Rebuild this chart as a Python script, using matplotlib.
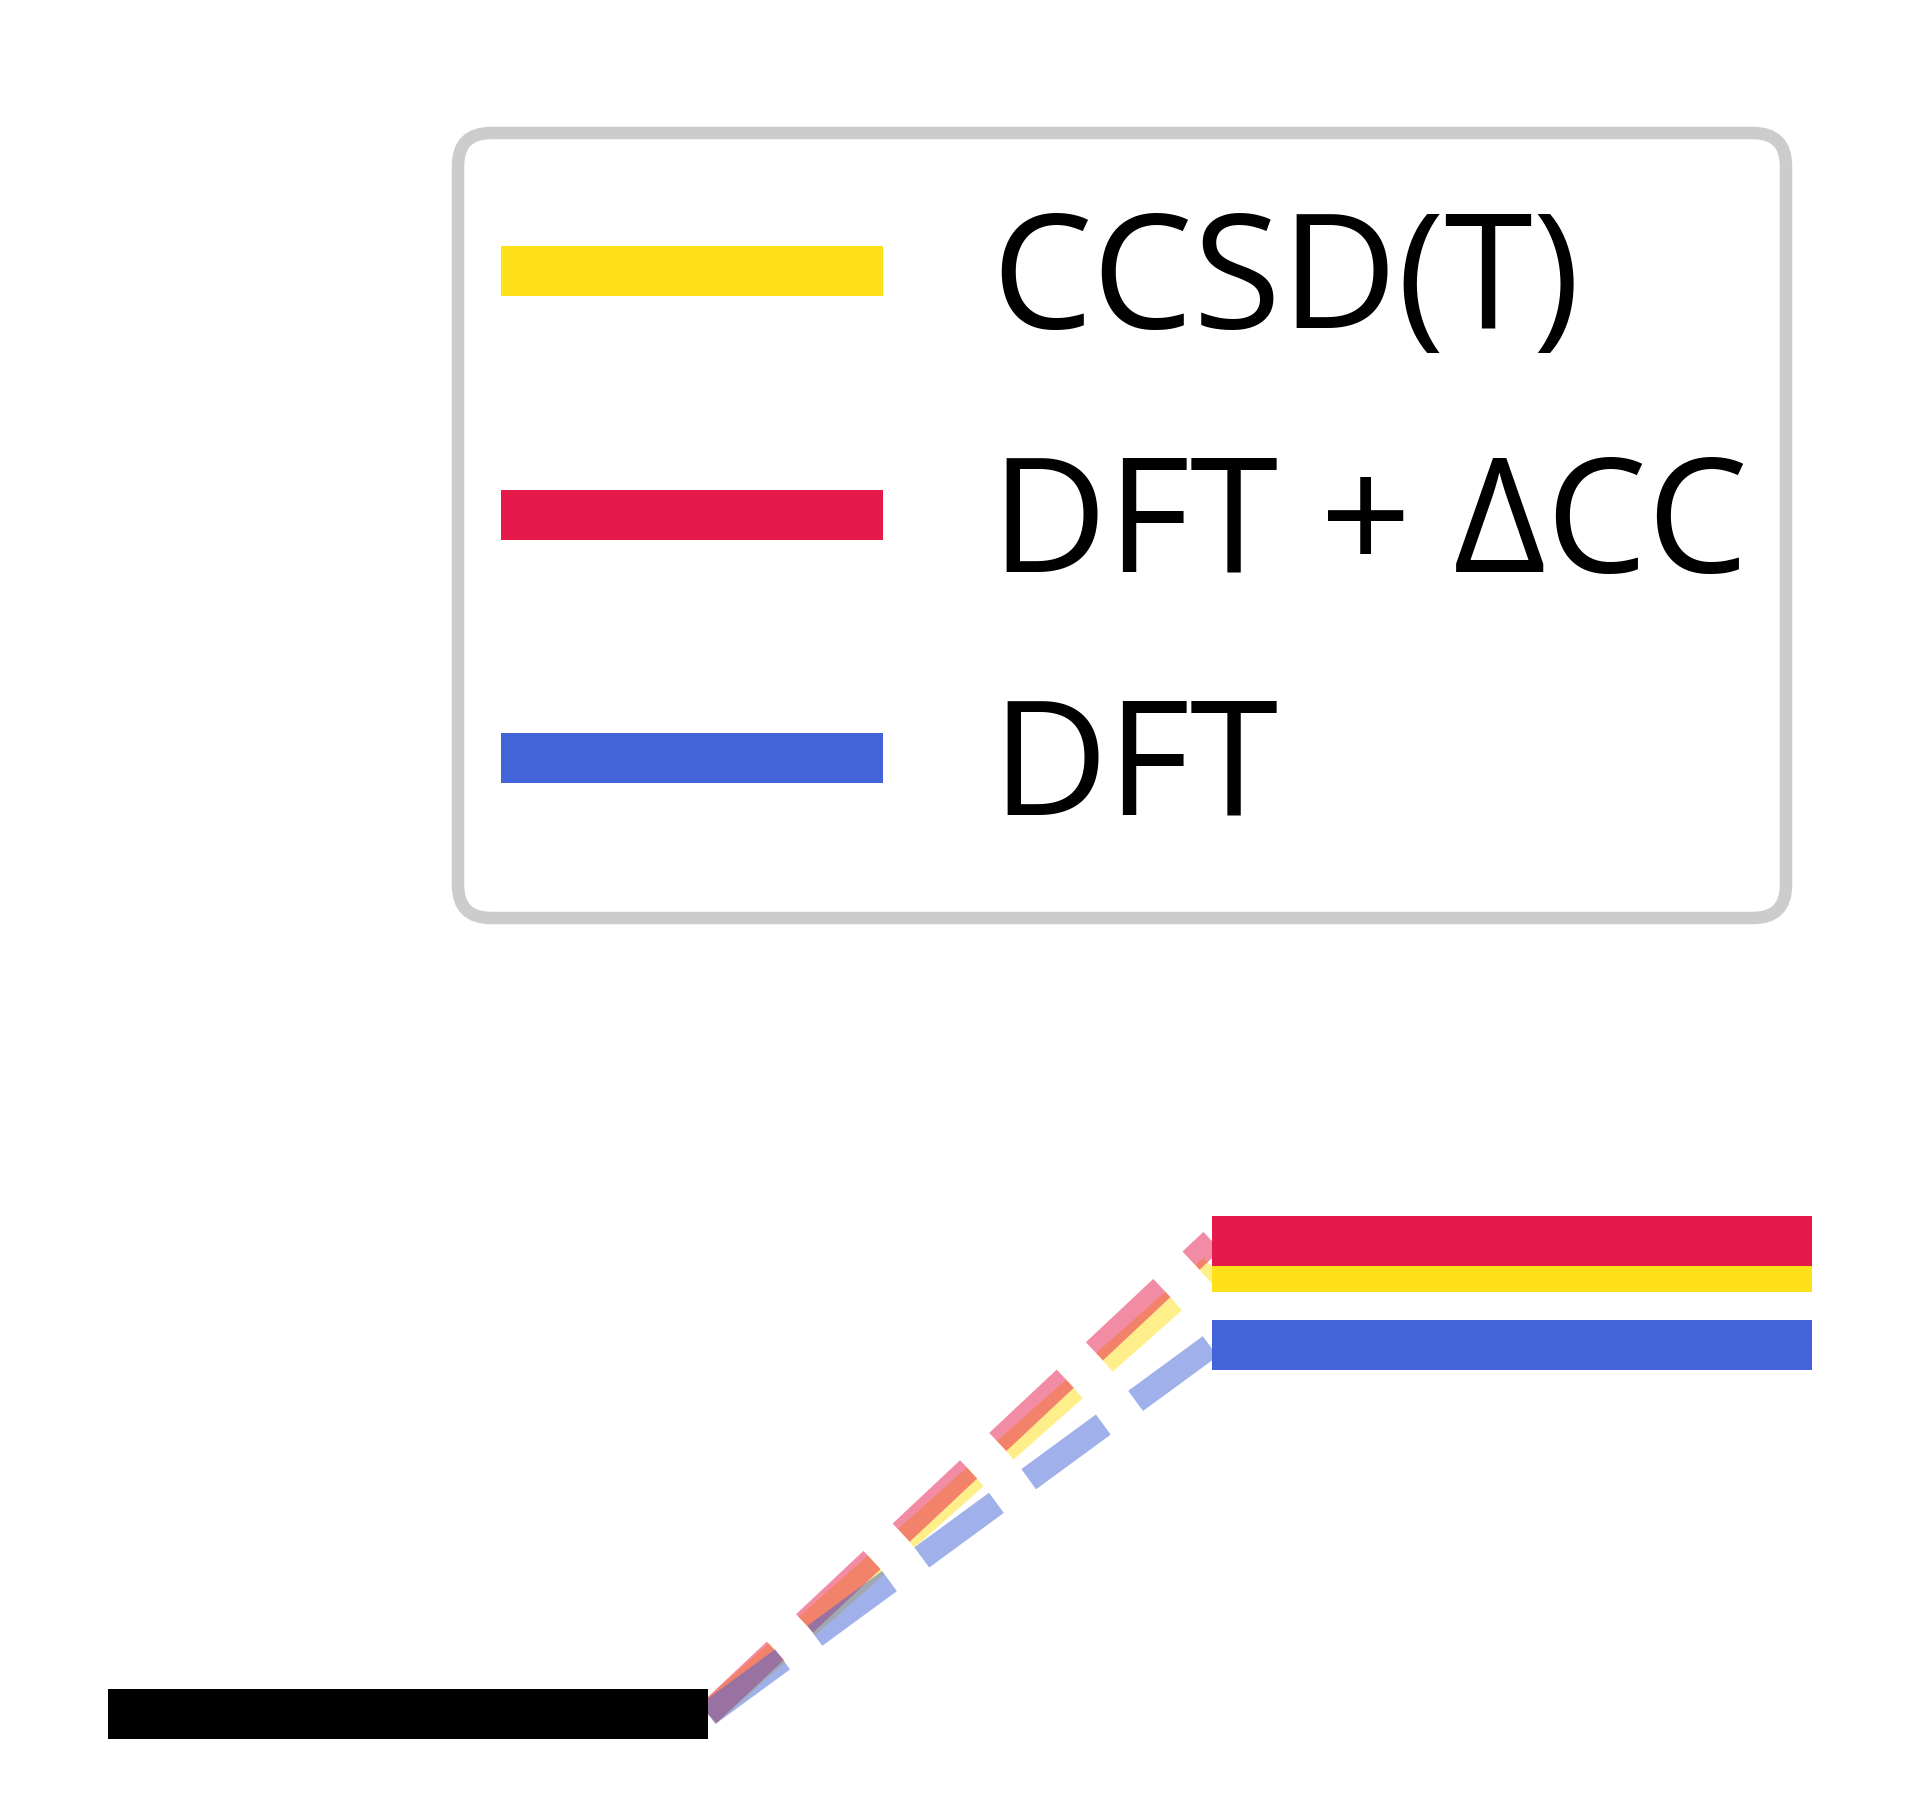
import matplotlib
matplotlib.use("Agg")
import matplotlib.pyplot as plt
from matplotlib.patches import FancyBboxPatch
from matplotlib.transforms import IdentityTransform

plt.rcParams['font.family'] = ['Open Sans', 'DejaVu Sans']

methods = ["CCSD(T)", "DFT + ΔCC", "DFT"]
colors = ["#ffe119", "#e6194b", "#4363d8"]
start_energy = 0.0
end_energies = [4.47, 4.73, 3.69]

start_x = [0.0, 1.0]
end_x = [1.84, 2.84]

fig = plt.figure(figsize=(6.403, 6.003), dpi=300)
ax = fig.add_axes([0, 0, 1, 1])
ax.set_xlim(-0.18, -0.18 + 1921 / 600)
ax.set_ylim(-0.86, -0.86 + 18.01)
ax.axis('off')

ax.plot(start_x, [start_energy, start_energy], color='black', lw=12,
        solid_capstyle='butt', zorder=3)
for m, c, e in zip(methods, colors, end_energies):
    ax.plot([start_x[1], end_x[0]], [start_energy, e], color=c, lw=6,
            ls='--', alpha=0.5, dash_capstyle='butt', zorder=1)
    ax.plot(end_x, [e, e], color=c, lw=12, solid_capstyle='butt',
            zorder=3, label=m)

# legend frame (pixel coordinates)
frame = FancyBboxPatch((458, 1801 - 919), 1328, 785,
                       boxstyle="round,pad=0,rounding_size=33",
                       facecolor='white', edgecolor='#cccccc', lw=3,
                       transform=IdentityTransform(), zorder=4)
frame.set_clip_on(False)
ax.add_artist(frame)

fs = 38.5
leg = ax.legend(loc='center left', bbox_to_anchor=(501 / 1921, 1 - 530 / 1801),
                borderaxespad=0, fontsize=fs, handlelength=91.7 / fs,
                handletextpad=26.0 / fs, labelspacing=20.1 / fs, borderpad=0,
                frameon=False)
leg.set_zorder(5)

fig.savefig("out.png", dpi=300)
